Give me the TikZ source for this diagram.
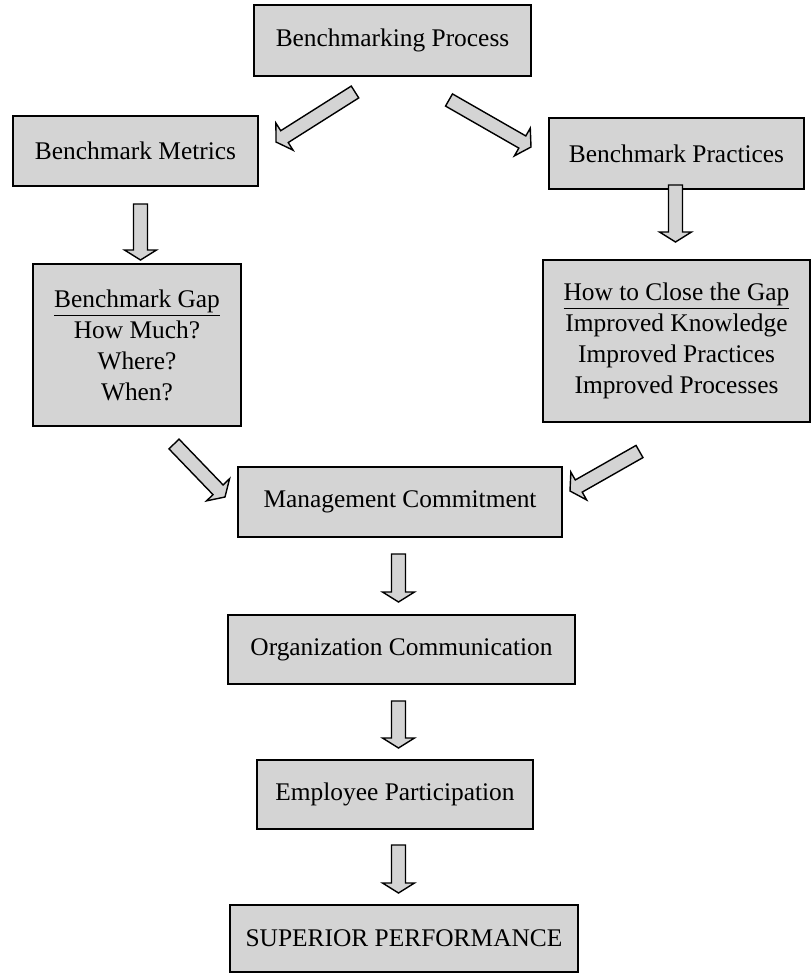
\documentclass[tikz,border=0pt]{standalone}
\usepackage{fontspec}
\setmainfont{Liberation Serif}
\usetikzlibrary{calc}

\begin{document}
\begin{tikzpicture}[x=0.5pt, y=-0.5pt,
  box/.style={draw, line width=0.9pt, fill=black!17, inner sep=0pt, align=center,
              font=\fontsize{12.7}{15.5}\selectfont},
  blk/.style={draw, line width=0.7pt, fill=black!17, line join=miter,
    to path={let \p1=($(\tikztotarget)-(\tikztostart)$),
                 \n1={atan2(\y1,\x1)}, \n2={veclen(\x1,\y1)} in
      ($(\tikztostart)+(\n1+90:3.5pt)$)
      -- ($(\tikztostart)+(\n1:{\n2*1pt-5pt})+(\n1+90:3.5pt)$)
      -- ($(\tikztostart)+(\n1:{\n2*1pt-5pt})+(\n1+90:8pt)$)
      -- (\tikztotarget)
      -- ($(\tikztostart)+(\n1:{\n2*1pt-5pt})+(\n1-90:8pt)$)
      -- ($(\tikztostart)+(\n1:{\n2*1pt-5pt})+(\n1-90:3.5pt)$)
      -- ($(\tikztostart)+(\n1-90:3.5pt)$) -- cycle}},
]
\useasboundingbox (0,0) rectangle (811,974);

% Top of the process
\node[box, minimum width=138.5pt, minimum height=35.5pt] (proc) at (392.5,40.5) {Benchmarking Process};

% Metrics branch
\node[box, minimum width=122.5pt, minimum height=35pt] (metrics) at (135.5,151) {Benchmark Metrics};
\node[box, minimum width=104pt, minimum height=81pt] (gap) at (137,345)
  {\underline{Benchmark Gap}\\How Much?\\Where?\\When?};

% Practices branch
\node[box, minimum width=127.5pt, minimum height=35.5pt] (practices) at (676.5,153.5) {Benchmark Practices};
\node[box, minimum width=133.5pt, minimum height=81pt] (close) at (676.5,341)
  {\underline{How to Close the Gap}\\Improved Knowledge\\Improved Practices\\Improved Processes};

% Main column
\node[box, minimum width=162pt, minimum height=35pt] (mgmt) at (400,502) {Management Commitment};
\node[box, minimum width=173.5pt, minimum height=34.5pt] (comm) at (401.5,649.5) {Organization Communication};
\node[box, minimum width=138pt, minimum height=34.5pt] (part) at (395,794.5) {Employee Participation};
\node[box, minimum width=174pt, minimum height=33.5pt] (perf) at (404,938.5) {SUPERIOR PERFORMANCE};

% Arrow ends
\coordinate (s1) at (355,92);    \coordinate (e1) at (276,142);
\coordinate (s2) at (449,100);   \coordinate (e2) at (531,147);
\coordinate (s3) at (140.5,204); \coordinate (e3) at (140.5,260);
\coordinate (s4) at (675.5,185); \coordinate (e4) at (675.5,242);
\coordinate (s5) at (174,444);   \coordinate (e5) at (225,497);
\coordinate (s6) at (639.5,451.5); \coordinate (e6) at (570,491);
\coordinate (s7) at (398.5,554); \coordinate (e7) at (398.5,602);
\coordinate (s8) at (398.5,701); \coordinate (e8) at (398.5,748);
\coordinate (s9) at (398.5,845); \coordinate (e9) at (398.5,893);

% Block arrows
\draw[blk] (s1) to (e1);
\draw[blk] (s2) to (e2);
\draw[blk] (s3) to (e3);
\draw[blk] (s4) to (e4);
\draw[blk] (s5) to (e5);
\draw[blk] (s6) to (e6);
\draw[blk] (s7) to (e7);
\draw[blk] (s8) to (e8);
\draw[blk] (s9) to (e9);
\end{tikzpicture}
\end{document}
